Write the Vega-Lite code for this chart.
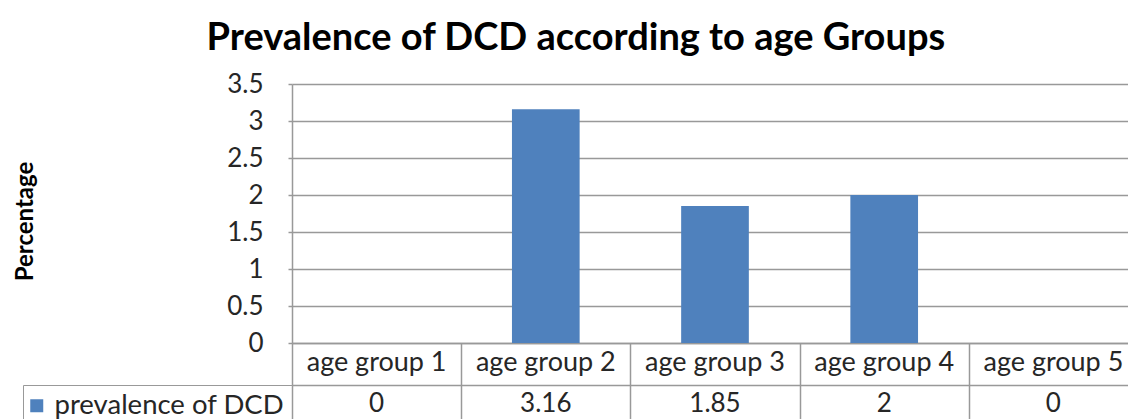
{
  "$schema": "https://vega.github.io/schema/vega-lite/v6.json",
  "background": "white",
  "padding": {"left": 13, "top": 20, "right": 0, "bottom": 0},
  "title": {"text": "Prevalence of DCD according to age Groups", "font": "Lato", "fontSize": 38, "fontWeight": "bold", "color": "#000000", "anchor": "middle", "offset": 13},
  "datasets": {
    "dcd": [
      {"group": "age group 1", "value": 0, "series": "prevalence of DCD"},
      {"group": "age group 2", "value": 3.16, "series": "prevalence of DCD"},
      {"group": "age group 3", "value": 1.85, "series": "prevalence of DCD"},
      {"group": "age group 4", "value": 2, "series": "prevalence of DCD"},
      {"group": "age group 5", "value": 0, "series": "prevalence of DCD"}
    ]
  },
  "vconcat": [
    {
      "width": 846,
      "height": 259,
      "data": {"name": "dcd"},
      "mark": {"type": "bar", "width": {"band": 0.4}},
      "encoding": {
        "x": {"field": "group", "type": "nominal", "sort": null,
          "scale": {"type": "band", "paddingInner": 0, "paddingOuter": 0},
          "axis": {"title": null, "labelAngle": 0, "labelFont": "Lato", "labelFontSize": 27, "labelColor": "#262626", "labelPadding": 6, "ticks": false, "domain": true, "domainColor": "#999999", "domainWidth": 1.5, "grid": false}},
        "y": {"field": "value", "type": "quantitative",
          "scale": {"domain": [0, 3.5], "nice": false, "zero": true},
          "axis": {"values": [0, 0.5, 1, 1.5, 2, 2.5, 3, 3.5], "format": "~g", "title": "Percentage", "titleFont": "Lato", "titleFontSize": 24, "titleFontWeight": "bold", "titleColor": "#000000", "titleAngle": 270, "titleBaseline": "middle", "titleAlign": "center", "titleX": -267, "titleY": 137,
            "labelFont": "Lato", "labelFontSize": 26, "labelColor": "#262626", "labelPadding": 25, "tickSize": 4, "tickColor": "#999999", "tickWidth": 1.5, "domain": true, "domainColor": "#999999", "domainWidth": 1.5, "grid": true, "gridColor": "#999999", "gridWidth": 1.5}},
        "color": {"field": "series", "type": "nominal",
          "scale": {"range": ["#4F81BD"]},
          "legend": {"title": null, "orient": "none", "legendX": -269, "legendY": 301, "direction": "vertical", "strokeColor": "#999999", "padding": 7, "symbolType": "square", "symbolSize": 169, "symbolStrokeWidth": 0, "symbolOpacity": 1, "symbolOffset": -7, "labelFont": "Lato", "labelFontSize": 27.5, "labelColor": "#262626", "labelOffset": 4, "labelLimit": 400}}
      }
    },
    {
      "width": 846,
      "height": 38,
      "data": {"name": "dcd"},
      "mark": {"type": "text", "font": "Lato", "fontSize": 26, "color": "#262626", "baseline": "middle", "align": "center"},
      "encoding": {
        "x": {"field": "group", "type": "nominal", "sort": null,
          "scale": {"type": "band", "paddingInner": 0, "paddingOuter": 0},
          "axis": {"orient": "top", "title": null, "labels": false, "domain": true, "domainColor": "#999999", "domainWidth": 1.5, "ticks": true, "tickBand": "extent", "tickSize": 42, "tickColor": "#999999", "tickWidth": 1.5, "grid": true, "gridColor": "#999999", "gridWidth": 1.5}},
        "text": {"field": "value", "type": "quantitative", "format": "~g"}
      }
    }
  ],
  "spacing": 42,
  "bounds": "flush",
  "config": {"view": {"stroke": null}}
}
